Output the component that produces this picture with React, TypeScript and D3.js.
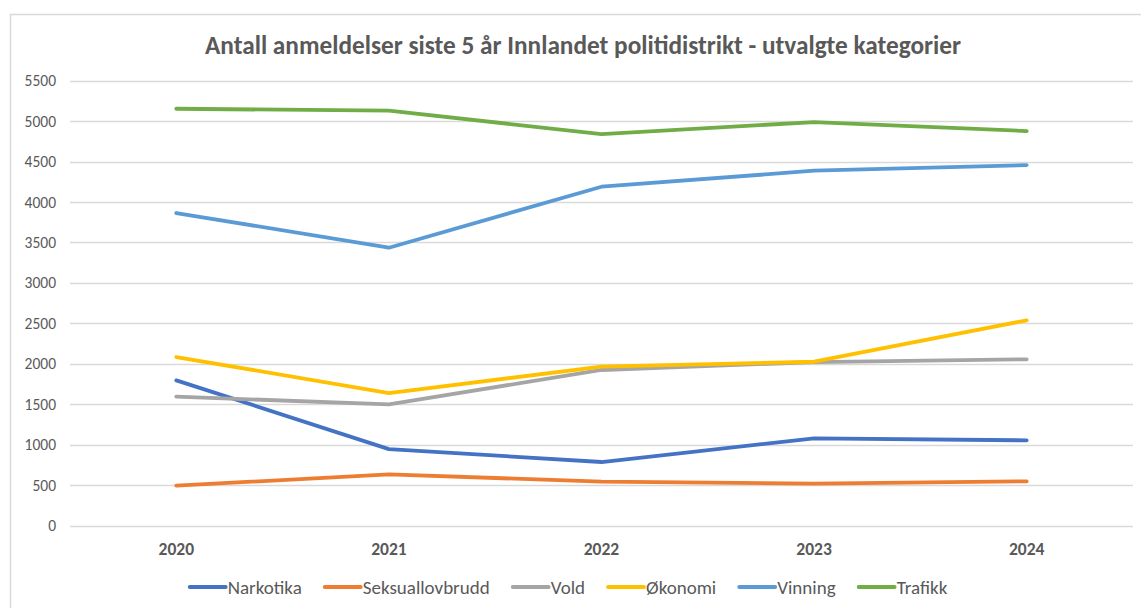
import React from "react";
import * as d3 from "d3";

const years = ["2020", "2021", "2022", "2023", "2024"];
const seriesNames = ["Narkotika", "Seksuallovbrudd", "Vold", "Økonomi", "Vinning", "Trafikk"];
const narkotika = [1795, 945, 785, 1078, 1053];
const seksuallovbrudd = [492, 633, 542, 517, 546];
const vold = [1593, 1498, 1923, 2021, 2055];
const okonomi = [2083, 1638, 1964, 2025, 2537];
const vinning = [3864, 3435, 4189, 4387, 4457];
const trafikk = [5153, 5129, 4840, 4989, 4877];
const colors = ["#4472C4", "#ED7D31", "#A5A5A5", "#FFC000", "#5B9BD5", "#70AD47"];
const yTicks = [0, 500, 1000, 1500, 2000, 2500, 3000, 3500, 4000, 4500, 5000, 5500];

const title = "Antall anmeldelser siste 5 år Innlandet politidistrikt - utvalgte kategorier";

const width = 1141;
const height = 608;
const font = "Calibri, Carlito, Lato, sans-serif";

function LineChart(canvas) {
  const series = [narkotika, seksuallovbrudd, vold, okonomi, vinning, trafikk];

  const marginLeft = 70;
  const marginRight = 8; // plot ends at 1133
  const yTop = 80.7;
  const yBottom = 525.5;

  const x = d3.scaleBand(years, [marginLeft, width - marginRight]);
  const y = d3.scaleLinear([0, 5500], [yBottom, yTop]);
  const cx = d => x(d) + x.bandwidth() / 2;

  const svg = d3.select(canvas);
  svg.selectAll("*").remove();

  // chart frame (runs off the right and bottom edges)
  svg.append("rect")
      .attr("x", 10.5)
      .attr("y", 14.5)
      .attr("width", width + 20)
      .attr("height", height + 20)
      .attr("fill", "white")
      .attr("stroke", "#D9D9D9")
      .attr("stroke-width", 1.5);

  svg.append("text")
      .attr("x", 583)
      .attr("y", 45)
      .attr("text-anchor", "middle")
      .attr("dominant-baseline", "central")
      .attr("font-family", font)
      .attr("font-weight", "bold")
      .attr("font-size", 25.3)
      .attr("fill", "#595959")
      .text(title);

  // gridlines + y labels
  const yAxis = svg.append("g");
  yAxis.selectAll("line")
    .data(yTicks)
    .join("line")
      .attr("x1", marginLeft)
      .attr("x2", width - marginRight)
      .attr("y1", d => Math.round(y(d)) + 0.5)
      .attr("y2", d => Math.round(y(d)) + 0.5)
      .attr("stroke", "#D9D9D9")
      .attr("stroke-width", 1.3);
  yAxis.selectAll("text")
    .data(yTicks)
    .join("text")
      .attr("x", 56)
      .attr("y", d => y(d))
      .attr("text-anchor", "end")
      .attr("dominant-baseline", "central")
      .attr("font-family", font)
      .attr("font-size", 15.5)
      .attr("fill", "#595959")
      .text(d => d);

  // x labels
  svg.append("g")
    .selectAll("text")
    .data(years)
    .join("text")
      .attr("x", d => cx(d))
      .attr("y", 549)
      .attr("text-anchor", "middle")
      .attr("dominant-baseline", "central")
      .attr("font-family", font)
      .attr("font-weight", "bold")
      .attr("font-size", 17.5)
      .attr("fill", "#595959")
      .text(d => d);

  const line = d3.line()
      .x((d, i) => cx(years[i]))
      .y(d => y(d));

  svg.append("g")
    .selectAll("path")
    .data(series)
    .join("path")
      .attr("d", d => line(d))
      .attr("fill", "none")
      .attr("stroke", (d, i) => colors[i])
      .attr("stroke-width", 3.8)
      .attr("stroke-linejoin", "round")
      .attr("stroke-linecap", "round");

  // legend, laid out from measured text widths and centred
  const legend = svg.append("g");
  const swatch = 37;
  const gap = 2;
  const itemGap = 22;
  const items = seriesNames.map((name, i) => {
    const g = legend.append("g");
    g.append("line")
        .attr("x1", 1)
        .attr("x2", swatch)
        .attr("y1", 0)
        .attr("y2", 0)
        .attr("stroke", colors[i])
        .attr("stroke-width", 3.8)
        .attr("stroke-linecap", "round");
    const t = g.append("text")
        .attr("x", swatch + gap)
        .attr("y", 0)
        .attr("dominant-baseline", "central")
        .attr("font-family", font)
        .attr("font-size", 19)
        .attr("fill", "#595959")
        .text(name);
    return {g, w: swatch + gap + t.node().getComputedTextLength()};
  });
  const total = d3.sum(items, d => d.w) + itemGap * (items.length - 1);
  let pos = 568 - total / 2;
  items.forEach(it => {
    it.g.attr("transform", `translate(${pos},587)`);
    pos += it.w + itemGap;
  });
}

export default function App() {
  const ref = React.useRef(null);

  React.useEffect(() => {
    LineChart(ref.current);
  }, []);

  return (
    <svg
      ref={ref}
      width={width}
      height={height}
      style={{position: "absolute", left: 0, top: 0, background: "white"}}
    />
  );
}
